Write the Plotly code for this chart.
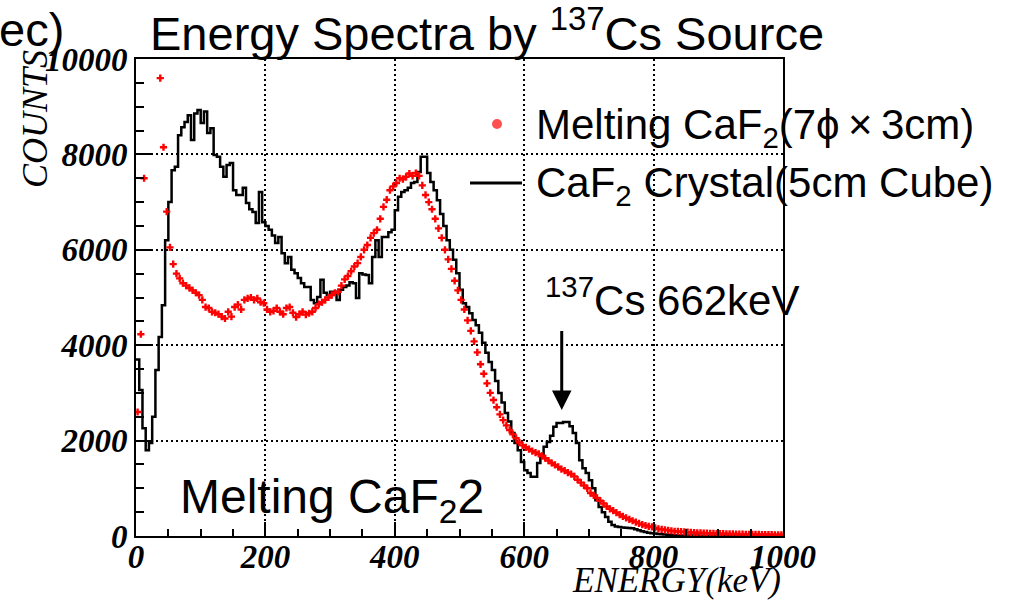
import numpy as np
import plotly.graph_objects as go

BIN_W = 5  # keV

# CaF2 crystal (5cm cube) histogram, counts per 5 keV bin, 0..1000 keV
crystal_counts = [
    3700, 3060, 2260, 1800, 1950, 2500, 3480, 4170, 4840, 6200,
    7000, 7670, 7740, 8400, 8570, 8680, 8820, 8300, 8860, 8930,
    8660, 8900, 8450, 8550, 7990, 7950, 7740, 7530, 7780, 7820,
    7250, 7150, 7150, 7300, 6980, 6850, 6790, 6560, 7210, 6580,
    6500, 6420, 6300, 6140, 6270, 5930, 5720, 5850, 5580, 5510,
    5410, 5300, 5220, 5220, 4950, 4880, 5010, 5370, 5100, 5050,
    5120, 5120, 4950, 5160, 5220, 5250, 5320, 5300, 4990, 5510,
    5480, 5470, 5300, 5850, 6200, 5850, 6270, 6270, 6370, 6420,
    6830, 7110, 7210, 7250, 7300, 7400, 7420, 7630, 7950, 7950,
    7610, 7420, 7250, 7040, 6750, 6500, 6200, 6000, 5790, 5510,
    5160, 4880, 4800, 4670, 4530, 4420, 4260, 4050, 3840, 3650,
    3480, 3250, 3000, 2800, 2580, 2400, 2160, 1950, 1800, 1550,
    1380, 1320, 1240, 1240, 1530, 1700, 1870, 1970, 2100, 2290,
    2370, 2370, 2390, 2390, 2300, 2160, 1950, 1590, 1420, 1320,
    1170, 1000, 750, 610, 500, 400, 300, 230, 200, 190,
    180, 175, 170, 160, 140, 120, 100, 85, 70, 60,
    50, 40, 35, 30, 25, 20, 18, 15, 12, 11,
    10, 9, 8, 8, 7, 6, 6, 5, 5, 5,
    4, 4, 4, 3, 3, 3, 3, 3, 2, 2,
    2, 2, 2, 2, 2, 2, 1, 1, 1, 1,
]

# Melting CaF2 (7phi x 3cm) spectrum, counts per 5 keV bin (points)
melting_counts = [
    2600, 4230, 7500, 10800, 11500, 11000, 10500, 9600, 8150, 6800,
    6050, 5700, 5500, 5400, 5300, 5250, 5200, 5150, 5100, 5050,
    4950, 4800, 4780, 4700, 4680, 4650, 4600, 4560, 4700, 4600,
    4800, 4850, 4750, 4950, 4980, 5000, 4950, 4980, 4900, 4880,
    4750, 4700, 4720, 4780, 4700, 4650, 4780, 4800, 4680, 4590,
    4650, 4700, 4640, 4670, 4700, 4780, 4860, 4900, 4950, 5000,
    5050, 5100, 5120, 5250, 5380, 5450, 5550, 5650, 5720, 5850,
    6000, 6100, 6250, 6350, 6420, 6650, 6900, 7050, 7250, 7330,
    7400, 7500, 7480, 7530, 7600, 7550, 7610, 7550, 7350, 7150,
    7000, 6850, 6650, 6450, 6250, 6000, 5800, 5600, 5350, 5150,
    4950, 4750, 4520, 4300, 4080, 3850, 3600, 3400, 3200, 3000,
    2850, 2700, 2550, 2430, 2320, 2220, 2130, 2050, 1960, 1900,
    1860, 1820, 1780, 1750, 1720, 1680, 1630, 1580, 1530, 1490,
    1450, 1400, 1370, 1330, 1300, 1250, 1180, 1120, 1060, 1000,
    900, 850, 800, 740, 680, 620, 570, 530, 490, 450,
    410, 380, 350, 320, 290, 265, 240, 220, 200, 190,
    170, 150, 140, 130, 120, 110, 100, 95, 90, 85,
    80, 75, 70, 68, 65, 62, 60, 58, 55, 52,
    50, 48, 46, 45, 43, 42, 40, 38, 37, 36,
    35, 33, 32, 30, 30, 28, 27, 26, 25, 25,
]

x_ticks = [0, 200, 400, 600, 800, 1000]
y_ticks = [0, 2000, 4000, 6000, 8000, 10000]

edges = np.arange(len(crystal_counts) + 1) * BIN_W
centers = (np.arange(len(melting_counts)) + 0.5) * BIN_W

# step histogram: left edges with hv, plus closing point
hx = list(edges)
hy = list(crystal_counts) + [crystal_counts[-1]]

fig = go.Figure()
fig.add_trace(go.Scatter(
    x=hx, y=hy, mode="lines", line=dict(color="black", width=2.5, shape="hv"),
    showlegend=False, name="CaF2 Crystal(5cm Cube)"))
fig.add_trace(go.Scatter(
    x=centers, y=melting_counts, mode="markers",
    marker=dict(color="red", size=6, symbol="cross", line=dict(width=0)),
    showlegend=False, name="Melting CaF2(7phi x 3cm)"))

# plot area in pixels: x 136..783, y 59..536
L, R, T, B = 136, 783, 59, 536
W, H = 1019, 603
def px(xp):
    return (xp - L) / (R - L)
def py(yp):
    return (B - yp) / (B - T)

sans = "Liberation Sans, Arial, sans-serif"
serif = "Liberation Serif, Times New Roman, serif"

annotations = [
    dict(text="Energy Spectra by <sup>137</sup>Cs Source", x=px(487), y=py(30),
         xref="paper", yref="paper", xanchor="center", yanchor="middle",
         showarrow=False, font=dict(family=sans, size=47, color="black")),
    dict(text="ec)", x=px(-3), y=py(30), xref="paper", yref="paper",
         xanchor="left", yanchor="middle", showarrow=False,
         font=dict(family=sans, size=47, color="black")),
    dict(text="<i>COUNTS</i>", x=px(35), y=py(48), xref="paper", yref="paper",
         xanchor="center", yanchor="top", textangle=-90, showarrow=False,
         font=dict(family=serif, size=36, color="black")),
    dict(text="<i>ENERGY(keV)</i>", x=1.0, y=py(580), xref="paper", yref="paper",
         xanchor="right", yanchor="middle", showarrow=False,
         font=dict(family=serif, size=35, color="black")),
    dict(text="Melting CaF<sub>2</sub>(7ϕ\u2009×\u20093cm)", x=px(534), y=py(127),
         xref="paper", yref="paper", xanchor="left", yanchor="middle",
         showarrow=False, font=dict(family=sans, size=42, color="black")),
    dict(text="CaF<sub>2</sub> Crystal(5cm Cube)", x=px(534), y=py(185),
         xref="paper", yref="paper", xanchor="left", yanchor="middle",
         showarrow=False, font=dict(family=sans, size=42, color="black")),
    dict(text="<sup>137</sup>Cs 662keV", x=px(672), y=py(297),
         xref="paper", yref="paper", xanchor="center", yanchor="middle",
         showarrow=False, font=dict(family=sans, size=42, color="black")),
    dict(text="Melting CaF<sub>2</sub>2", x=px(178), y=py(500),
         xref="paper", yref="paper", xanchor="left", yanchor="middle",
         showarrow=False, font=dict(family=sans, size=48, color="black")),
    dict(text="", x=658, y=2640, xref="x", yref="y", ax=658, ay=4330,
         axref="x", ayref="y", showarrow=True, arrowhead=2, arrowsize=1.3,
         arrowwidth=3, arrowcolor="black"),
]

shapes = [
    dict(type="line", xref="paper", yref="paper", x0=px(470), x1=px(522),
         y0=py(183), y1=py(183), line=dict(color="black", width=3)),
    dict(type="circle", xref="paper", yref="paper", xsizemode="pixel",
         ysizemode="pixel", xanchor=px(497), yanchor=py(124),
         x0=-5, x1=5, y0=-5, y1=5, fillcolor="#ff5050", line=dict(width=0)),
]

tickfont = dict(family=serif, size=33, color="black", weight="bold", style="italic")

fig.update_layout(
    width=W, height=H,
    margin=dict(l=L, r=W - R, t=T, b=H - B, pad=0),
    paper_bgcolor="white", plot_bgcolor="white",
    annotations=annotations, shapes=shapes,
    showlegend=False,
    xaxis=dict(range=[0, 1000], tickvals=x_ticks, ticktext=[str(v) for v in x_ticks],
               ticks="inside", ticklen=14, tickwidth=2, tickcolor="black",
               minor=dict(dtick=50, ticks="inside", ticklen=7, tickwidth=2,
                          tickcolor="black", showgrid=False),
               showline=True, linecolor="black", linewidth=2, mirror=True,
               showgrid=True, gridcolor="black", gridwidth=2, griddash="2px,3px",
               zeroline=False, tickfont=tickfont, ticklabelstandoff=-10),
    yaxis=dict(range=[0, 10000], tickvals=y_ticks, ticktext=[str(v) for v in y_ticks],
               ticks="inside", ticklen=15, tickwidth=2, tickcolor="black",
               minor=dict(dtick=500, ticks="inside", ticklen=8, tickwidth=2,
                          tickcolor="black", showgrid=False),
               showline=True, linecolor="black", linewidth=2, mirror=True,
               showgrid=True, gridcolor="black", gridwidth=2, griddash="2px,3px",
               zeroline=False, tickfont=tickfont),
)

fig.write_html("out.html")
